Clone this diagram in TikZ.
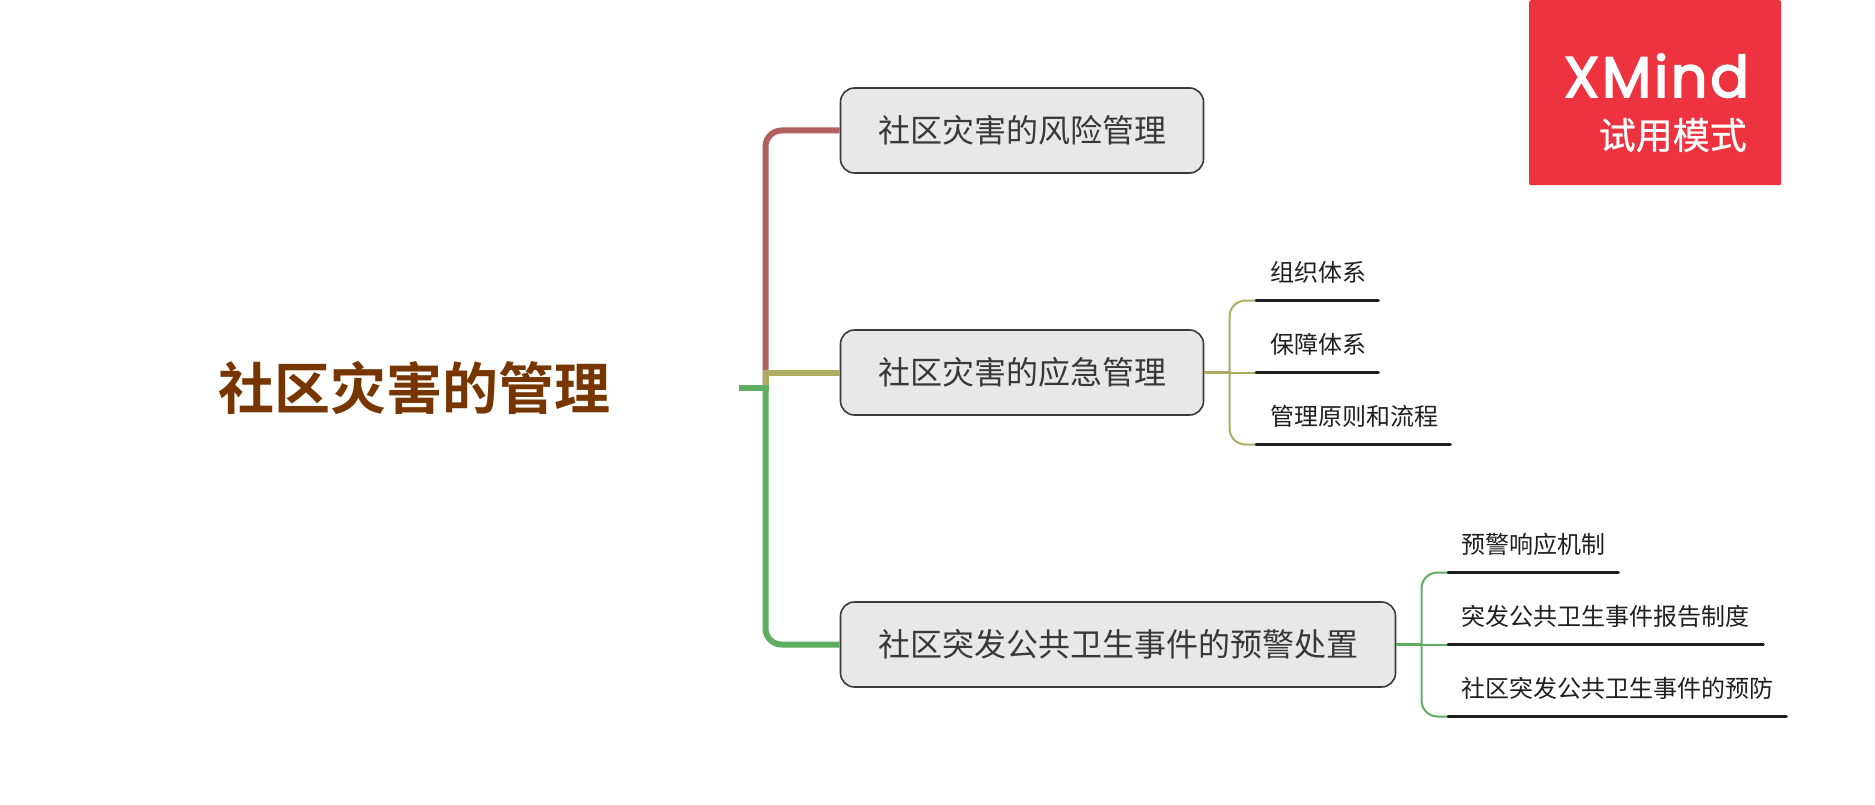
\documentclass[tikz,border=0pt]{standalone}
\usepackage{fontspec}
\setmainfont{Noto Sans CJK SC}
\newfontfamily\cjkreg{Noto Sans CJK SC}
\newfontfamily\cjkmed{Noto Sans CJK SC}[FakeBold=0.6]
\newfontfamily\cjkbold{Noto Sans CJK SC Bold}
\newfontfamily\logofont{Poppins}[FakeBold=3,LetterSpace=5]
\definecolor{redline}{HTML}{B16060}
\definecolor{oliveline}{HTML}{ADAD62}
\definecolor{greenline}{HTML}{5FAD60}
\definecolor{rootbrown}{HTML}{773600}
\definecolor{boxfill}{HTML}{E8E8E8}
\definecolor{boxedge}{HTML}{3A3A3A}
\definecolor{logored}{HTML}{EE3340}
\tikzset{
  rootnode/.style={minimum width=650pt,minimum height=80pt,inner sep=0pt,align=center,text=rootbrown,font=\cjkbold\fontsize{56}{60}\selectfont},
  topicbox/.style={draw=boxedge,line width=1.6pt,fill=boxfill,rounded corners=14pt,minimum height=85pt,inner sep=0pt,text=black!78,font=\cjkreg\fontsize{32}{36}\selectfont},
  subnode/.style={minimum height=56pt,inner sep=0pt,anchor=south west,text=black!88,font=\cjkreg\fontsize{24}{28}\selectfont},
  mainconn/.style={line width=6pt,rounded corners=16pt},
  subconn/.style={line width=2pt,rounded corners=16pt},
  under/.style={line width=3pt,draw=black!88,line cap=round},
  logobox/.style={fill=logored,draw=none,rounded corners=2pt,minimum width=252pt,minimum height=185pt,inner sep=0pt,anchor=north west}
}
\begin{document}
\begin{tikzpicture}[x=1pt,y=-1pt]
\useasboundingbox[fill=white] (0,0) rectangle (1875,805);

% watermark
\node[logobox] (logo) at (1529,0) {};
\node[anchor=base east,inner sep=0pt,text=white,font=\logofont\fontsize{57}{58}\selectfont] (logotext) at (1749,97) {XMind};
\node[anchor=base east,inner sep=0pt,text=white,font=\cjkmed\fontsize{37}{38}\selectfont] (logosub) at (1747,149) {试用模式};

% nodes
\node[rootnode] (root) at (414,388) {社区灾害的管理};
\node[topicbox,minimum width=363pt] (t1) at (1022,130.5) {社区灾害的风险管理};
\node[topicbox,minimum width=363pt] (t2) at (1022,372.5) {社区灾害的应急管理};
\node[topicbox,minimum width=555pt] (t3) at (1118,644.5) {社区突发公共卫生事件的预警处置};

\node[subnode,minimum width=122pt,text width=122pt] (a1) at (1256,300.5) {\hspace*{14pt}组织体系};
\node[subnode,minimum width=122pt,text width=122pt] (a2) at (1256,372.5) {\hspace*{14pt}保障体系};
\node[subnode,minimum width=194pt,text width=194pt] (a3) at (1256,444.5) {\hspace*{14pt}管理原则和流程};
\node[subnode,minimum width=170pt,text width=170pt] (b1) at (1448,572.5) {\hspace*{13pt}预警响应机制};
\node[subnode,minimum width=315pt,text width=315pt] (b2) at (1448,644.5) {\hspace*{13pt}突发公共卫生事件报告制度};
\node[subnode,minimum width=338pt,text width=338pt] (b3) at (1448,716.5) {\hspace*{13pt}社区突发公共卫生事件的预防};

% main connectors
\coordinate (hub) at (765.5,388);
\coordinate (j2) at (1229.5,372.5);
\coordinate (j3) at (1421.5,644.5);
\draw[mainconn,redline] (hub) -- (hub |- t1.west) -- (t1.west);
\draw[mainconn,oliveline,rounded corners=0pt] (hub) -- (hub |- t2.west) -- (t2.west);
\draw[mainconn,greenline] (hub) -- (hub |- t3.west) -- (t3.west);
\draw[line width=6pt,greenline] (root.east) -- ([xshift=3pt]hub);

% sub connectors
\draw[subconn,oliveline] (a1.south west) -- (j2 |- a1.south west) -- (j2 |- a3.south west) -- (a3.south west);
\draw[line width=3pt,oliveline] (t2.east) -- (j2);
\draw[subconn,oliveline] (j2) -- (a2.south west);
\draw[subconn,greenline] (b1.south west) -- (j3 |- b1.south west) -- (j3 |- b3.south west) -- (b3.south west);
\draw[line width=3pt,greenline] (t3.east) -- (j3);
\draw[subconn,greenline] (j3) -- (b2.south west);

% underlines
\foreach \n in {a1,a2,a3,b1,b2,b3}{
  \draw[under] (\n.south west) -- (\n.south east);
}
\end{tikzpicture}
\end{document}
